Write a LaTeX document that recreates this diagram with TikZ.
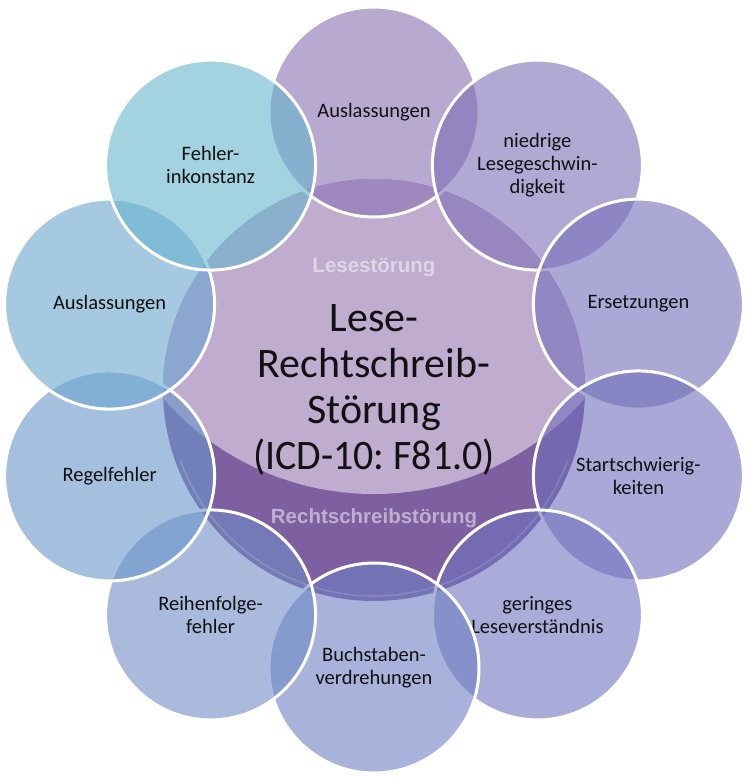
\documentclass[tikz,border=0pt]{standalone}
\usepackage{fontspec}
\setmainfont{Carlito}
\newfontfamily\labelfont{Liberation Sans}
\usetikzlibrary{calc}
\frenchspacing
\definecolor{cLight}{RGB}{191,172,207}
\definecolor{cDark}{RGB}{126,95,160}
\definecolor{cA}{RGB}{137,112,178}
\definecolor{cB}{RGB}{125,110,183}
\definecolor{cC}{RGB}{117,110,187}
\definecolor{cD}{RGB}{112,110,187}
\definecolor{cE}{RGB}{112,115,190}
\definecolor{cF}{RGB}{112,128,195}
\definecolor{cG}{RGB}{112,140,197}
\definecolor{cH}{RGB}{105,150,200}
\definecolor{cI}{RGB}{107,165,207}
\definecolor{cJ}{RGB}{103,180,205}
\definecolor{txt}{RGB}{17,17,17}
\begin{document}
\begin{tikzpicture}[x=1pt,y=1pt,
  sat/.style={circle, minimum size=210pt, inner sep=0pt, draw=white, line width=3pt,
    fill opacity=0.6, text opacity=1, align=center, text=txt,
    font=\fontsize{20.5}{23}\selectfont},
  sublabel/.style={font=\labelfont\bfseries\fontsize{20.5}{24}\selectfont, text=white, text opacity=0.5},
]
\useasboundingbox (0,0) rectangle (748,-780);
\fill[white] (0,0) rectangle (748,-780);
\coordinate (O) at (374,-390);
% central disc
\fill[cDark] (O) circle (211pt);
\begin{scope}
  \clip (O) circle (211pt);
  \fill[cLight] (374,-214) circle (280pt);
\end{scope}
\draw[white, opacity=0.35, line width=1.5pt] ($(O)+(200:206pt)$) arc[start angle=200, end angle=340, radius=206pt];
\node[sublabel] (les) at (374,-268) {Lesestörung};
\node[sublabel] (rs) at (374,-518) {Rechtschreibstörung};
\node[align=center, text=txt, font=\fontsize{42}{46}\selectfont] (main) at (374,-390)
  {Lese-\\Rechtschreib-\\Störung\\\scalebox{0.95}[1]{(ICD-10: F81.0)}};
% satellites
\node[sat, fill=cA] (s1) at ($(O)+(90:278pt)$) {Auslassungen};
\node[sat, fill=cB] (s2) at ($(O)+(54:278pt)$) {niedrige\\Lesegeschwin-\\digkeit};
\node[sat, fill=cC] (s3) at ($(O)+(18:278pt)$) {Ersetzungen};
\node[sat, fill=cD] (s4) at ($(O)+(-18:278pt)$) {Startschwierig-\\keiten};
\node[sat, fill=cE] (s5) at ($(O)+(-54:278pt)$) {geringes\\Leseverständnis};
\node[sat, fill=cF] (s6) at ($(O)+(-90:278pt)$) {Buchstaben-\\verdrehungen};
\node[sat, fill=cG] (s7) at ($(O)+(-126:278pt)$) {Reihenfolge-\\fehler};
\node[sat, fill=cH] (s8) at ($(O)+(-162:278pt)$) {Regelfehler};
\node[sat, fill=cI] (s9) at ($(O)+(162:278pt)$) {Auslassungen};
\node[sat, fill=cJ] (s10) at ($(O)+(126:278pt)$) {Fehler-\\inkonstanz};
\end{tikzpicture}
\end{document}
